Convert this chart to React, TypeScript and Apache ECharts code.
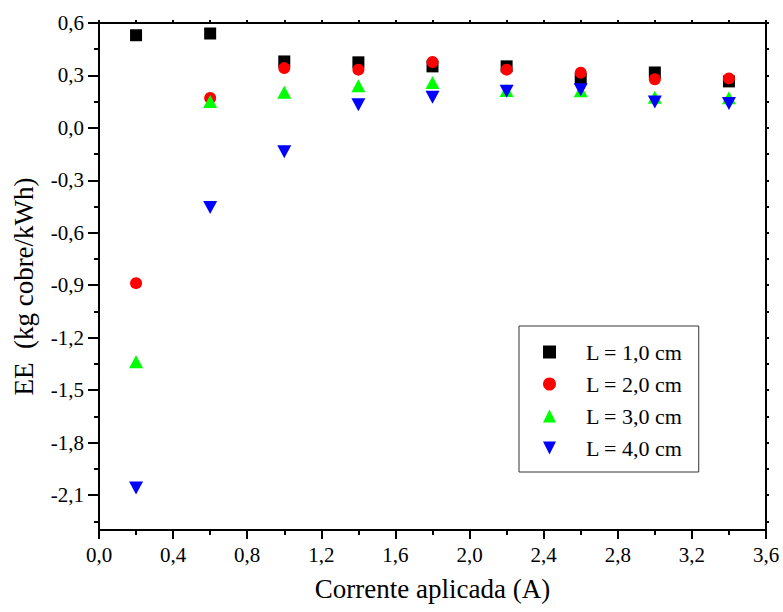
import React, { useEffect, useRef } from "react";
import * as echarts from "echarts";

// Applied current (A)
const current = [0.2, 0.6, 1.0, 1.4, 1.8, 2.2, 2.6, 3.0, 3.4];

// Energy efficiency per electrode spacing L
const eeL1 = [0.53, 0.54, 0.38, 0.375, 0.352, 0.352, 0.28, 0.317, 0.266];
const eeL2 = [-0.888, 0.171, 0.342, 0.333, 0.377, 0.333, 0.316, 0.278, 0.283];
const eeL3 = [-1.338, 0.151, 0.204, 0.241, 0.259, 0.214, 0.213, 0.176, 0.172];
const eeL4 = [-2.06, -0.455, -0.136, 0.133, 0.176, 0.209, 0.218, 0.148, 0.14];

const seriesNames = ["L = 1,0 cm", "L = 2,0 cm", "L = 3,0 cm", "L = 4,0 cm"];
const seriesColors = ["#000000", "#ff0000", "#00ff00", "#0000ff"];
const seriesSymbols = ["rect", "circle", "triangle", "path://M0,0 L10,0 L5,10 Z"];
const seriesSizes = [12, 12, [14, 13], [14, 13]];

// Y-axis tick positions
const yMajor = [-2.1, -1.8, -1.5, -1.2, -0.9, -0.6, -0.3, 0.0, 0.3, 0.6];
const yMinor = [-2.25, -1.95, -1.65, -1.35, -1.05, -0.75, -0.45, -0.15, 0.15, 0.45];

const FONT = "'Liberation Serif', 'Times New Roman', serif";

const fmt = (v: number) => v.toFixed(1).replace(".", ",");

export default function App() {
  const ref = useRef<HTMLDivElement>(null);

  useEffect(() => {
    if (!ref.current) return;
    const chart = echarts.init(ref.current, null, { renderer: "svg" });
    const seriesData = [eeL1, eeL2, eeL3, eeL4];
    const lineStyle = { color: "#000", width: 2 };

    chart.setOption({
      animation: false,
      backgroundColor: "#fff",
      textStyle: { fontFamily: FONT },
      grid: { left: 99, right: 17, top: 23, bottom: 82, containLabel: false },
      legend: {
        orient: "vertical",
        left: 519,
        top: 326,
        padding: [15, 16, 13, 24],
        itemGap: 10,
        itemWidth: 13,
        itemHeight: 13,
        borderColor: "#333",
        borderWidth: 1,
        borderRadius: 0,
        data: seriesNames,
        textStyle: {
          fontFamily: FONT,
          fontSize: 22,
          lineHeight: 22,
          color: "#000",
          padding: [0, 0, 0, 25],
        },
      },
      xAxis: [
        {
          type: "value",
          position: "bottom",
          min: 0,
          max: 3.6,
          interval: 0.4,
          name: "Corrente aplicada (A)",
          nameLocation: "middle",
          nameGap: 45,
          nameTextStyle: { fontFamily: FONT, fontSize: 27, color: "#000" },
          axisLine: { show: true, onZero: false, lineStyle },
          axisTick: { show: true, inside: false, length: 9, lineStyle },
          minorTick: { show: true, splitNumber: 2, length: 5, lineStyle },
          splitLine: { show: false },
          axisLabel: {
            fontFamily: FONT,
            fontSize: 21,
            color: "#000",
            margin: 14,
            formatter: fmt,
          },
        },
        {
          type: "value",
          position: "top",
          min: 0,
          max: 3.6,
          interval: 0.2,
          axisLine: { show: true, onZero: false, lineStyle },
          axisTick: { show: true, inside: false, length: 3, lineStyle },
          splitLine: { show: false },
          axisLabel: { show: false },
        },
      ],
      yAxis: [
        {
          type: "value",
          position: "left",
          min: -2.3,
          max: 0.6,
          name: "EE  (kg cobre/kWh)",
          nameLocation: "middle",
          nameGap: 62,
          nameRotate: 90,
          nameTextStyle: {
            fontFamily: FONT,
            fontSize: 27,
            color: "#000",
            padding: [0, 20, 0, 0],
          },
          axisLine: { show: true, onZero: false, lineStyle },
          axisTick: {
            show: true,
            inside: false,
            length: 11,
            lineStyle,
            customValues: yMajor,
          },
          splitLine: { show: false },
          axisLabel: {
            fontFamily: FONT,
            fontSize: 21,
            color: "#000",
            margin: 15,
            customValues: yMajor,
            formatter: fmt,
          },
        },
        {
          type: "value",
          position: "left",
          min: -2.3,
          max: 0.6,
          axisLine: { show: false, onZero: false },
          axisTick: {
            show: true,
            inside: false,
            length: 5,
            lineStyle,
            customValues: yMinor,
          },
          splitLine: { show: false },
          axisLabel: { show: false },
        },
        {
          type: "value",
          position: "right",
          min: -2.3,
          max: 0.6,
          axisLine: { show: true, onZero: false, lineStyle },
          axisTick: {
            show: true,
            inside: false,
            length: 3,
            lineStyle,
            customValues: [...yMajor, ...yMinor],
          },
          splitLine: { show: false },
          axisLabel: { show: false },
        },
      ],
      series: seriesNames.map((name, i) => ({
        name,
        type: "scatter",
        xAxisIndex: 0,
        yAxisIndex: 0,
        symbol: seriesSymbols[i],
        symbolSize: seriesSizes[i],
        itemStyle: { color: seriesColors[i], opacity: 1 },
        data: current.map((x, j) => [x, seriesData[i][j]]),
        z: 2 + i,
      })),
    });

    return () => chart.dispose();
  }, []);

  return (
    <div
      ref={ref}
      style={{ position: "fixed", left: 0, top: 0, width: 783, height: 612 }}
    />
  );
}
